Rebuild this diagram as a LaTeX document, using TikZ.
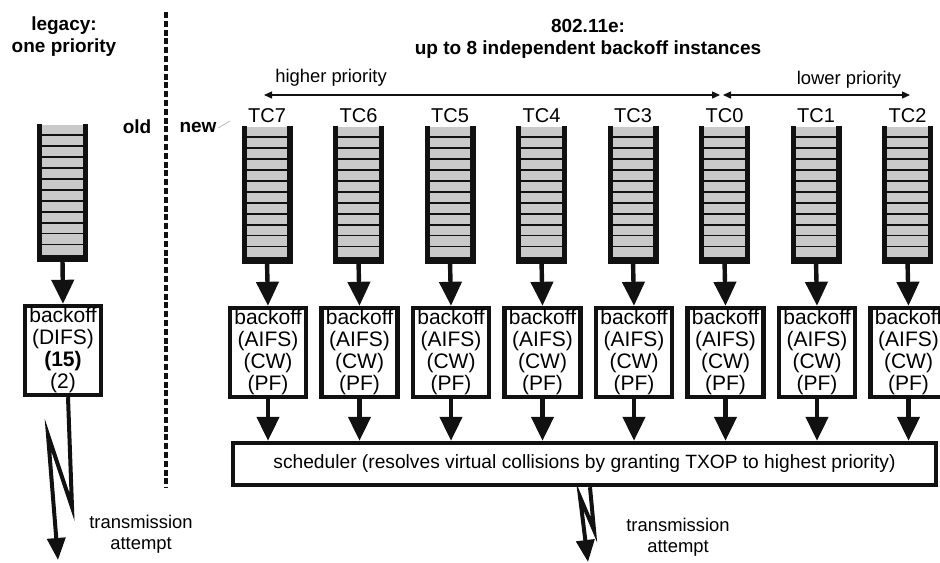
\documentclass[tikz,border=0pt]{standalone}
\usepackage{fontspec}
\setmainfont{Liberation Sans}
\usetikzlibrary{arrows.meta,calc}
\definecolor{ink}{HTML}{111111}
\definecolor{qgray}{HTML}{C9C9C9}
\newcommand{\myqueue}[1]{%
  \foreach \k in {1,...,12}{\draw[qslot] ($(#1.north west)!\k/12.3!(#1.south west)$) -- ($(#1.north east)!\k/12.3!(#1.south east)$);}
  \draw[qside] (#1.north west) -- (#1.south west) -- (#1.south east) -- (#1.north east);}
\begin{document}
\begin{tikzpicture}[x=0.5pt,y=-0.5pt,
  queue/.style={fill=qgray, minimum width=22.5pt, minimum height=67pt, inner sep=0pt},
  qside/.style={line width=2.6pt, draw=ink, line join=miter},
  qslot/.style={line width=0.8pt, draw=ink},
  bbox/.style={draw=ink, line width=2.2pt, fill=white, minimum width=38pt, minimum height=44.5pt, inner sep=0pt, align=center, font=\fontsize{10.5}{11}\selectfont},
  fat/.style={line width=2.2pt, draw=ink, -{Triangle[length=12pt,width=11pt]}},
  bolt/.style={line width=2pt, draw=ink, line join=miter, -{Triangle[length=11pt,width=9pt]}},
  prio/.style={line width=0.6pt, draw=ink, {Triangle[length=4pt,width=3.5pt]}-{Triangle[length=4pt,width=3.5pt]}},
  lbl/.style={font=\fontsize{9.2}{10.5}\selectfont, inner sep=0pt, align=center},
  blbl/.style={font=\bfseries\fontsize{9.5}{11}\selectfont, align=center, inner sep=0pt},
  tc/.style={font=\fontsize{10}{11}\selectfont, inner sep=0pt}
]
\useasboundingbox (0,0) rectangle (940,562);

% headings
\node[blbl] (legacy) at (64,37) {legacy:\\one priority};
\node[blbl] (std) at (588,39) {802.11e:\\up to 8 independent backoff instances};
\node[blbl] (old) at (137,127) {old};
\node[blbl] (new) at (198,127) {new};
\draw[gray!55, line width=0.4pt] (218,128) -- (230,121);

% divider
\coordinate (dtop) at (166,12);
\coordinate (dbot) at (166,488);
\draw[ink, line width=1.8pt, dash pattern=on 3pt off 1.4pt] (dtop) -- (dbot);

% priority arrows
\coordinate (hpL) at (264,95);
\coordinate (hpR) at (720,95);
\coordinate (lpL) at (723,95);
\coordinate (lpR) at (910,95);
\draw[prio] (hpL) -- (hpR);
\draw[prio] (lpL) -- (lpR);
\node[lbl] (hp) at (331,78) {higher priority};
\node[lbl] (lp) at (849,80) {lower priority};

% legacy column
\node[queue] (ql) at (62.5,191.5) {};
\myqueue{ql}
\node[bbox] (bl) at (63,350.5) {backoff\\(DIFS)\\\textbf{(15)}\\(2)};
\draw[fat] (ql.south) -- (bl.north);
\coordinate (t1) at (58,560);
\draw[bolt] ([xshift=2.5pt]bl.south) -- (72,507) -- (48,435) -- (t1);
\node[lbl] (ta1) at (141,534) {transmission\\attempt};

% scheduler
\node[draw=ink, line width=2.2pt, minimum width=351.5pt, minimum height=21pt, inner sep=0pt,
      font=\fontsize{9.6}{10}\selectfont] (sch) at (584.5,464)
  {scheduler (resolves virtual collisions by granting TXOP to highest priority)};

% 802.11e columns
\foreach \n/\lab/\x in {q7/TC7/267, q6/TC6/358.5, q5/TC5/450, q4/TC4/541.5, q3/TC3/633, q0/TC0/724.5, q1/TC1/816, q2/TC2/907.5}{
  \node[tc] (t\n) at (\x,116) {\lab};
  \node[queue] (\n) at (\x,193.5) {};
  \myqueue{\n}
  \node[bbox] (b\n) at (\x+1,352.5) {backoff\\(AIFS)\\(CW)\\(PF)};
  \draw[fat] (\n.south) -- (b\n.north);
  \draw[fat] (b\n.south) -- (b\n.south |- sch.north);
}

\coordinate (t2) at (588,562);
\draw[bolt] ([xshift=2.75pt]sch.south) -- (594,530) -- (580,497) -- (t2);
\node[lbl] (ta2) at (678,537) {transmission\\attempt};
\end{tikzpicture}
\end{document}
